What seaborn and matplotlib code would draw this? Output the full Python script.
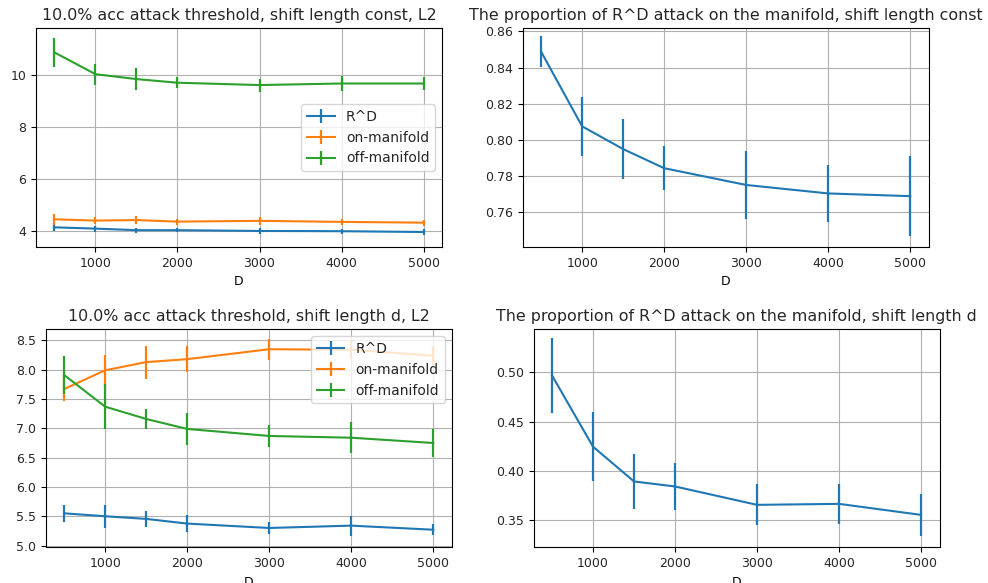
import numpy as np
import pandas as pd
import matplotlib
matplotlib.use("Agg")
import matplotlib.pyplot as plt
from matplotlib.container import ErrorbarContainer
import seaborn as sns

# Dimension values shared by every panel
D = [500, 1000, 1500, 2000, 3000, 4000, 5000]

# 10% accuracy attack threshold, shift length const (L2)
const_rd = [4.14, 4.09, 4.03, 4.03, 4.00, 3.99, 3.96]
const_rd_err = [0.16, 0.12, 0.10, 0.08, 0.12, 0.10, 0.12]
const_on = [4.45, 4.40, 4.42, 4.36, 4.39, 4.35, 4.32]
const_on_err = [0.22, 0.15, 0.17, 0.12, 0.15, 0.12, 0.12]
const_off = [10.89, 10.05, 9.86, 9.72, 9.63, 9.69, 9.69]
const_off_err = [0.55, 0.40, 0.42, 0.21, 0.25, 0.30, 0.27]

# Proportion of R^D attack on the manifold, shift length const
const_prop = [0.8488, 0.8074, 0.7948, 0.7842, 0.7749, 0.7702, 0.7687]
const_prop_err = [0.0085, 0.0164, 0.0165, 0.0121, 0.0190, 0.0160, 0.0220]

# 10% accuracy attack threshold, shift length d (L2)
d_rd = [5.55, 5.50, 5.455, 5.375, 5.30, 5.34, 5.27]
d_rd_err = [0.145, 0.20, 0.14, 0.14, 0.11, 0.17, 0.09]
d_on = [7.67, 7.99, 8.13, 8.18, 8.35, 8.34, 8.24]
d_on_err = [0.20, 0.26, 0.28, 0.22, 0.18, 0.16, 0.16]
d_off = [7.91, 7.37, 7.16, 6.99, 6.87, 6.84, 6.75]
d_off_err = [0.32, 0.38, 0.17, 0.27, 0.18, 0.26, 0.24]

# Proportion of R^D attack on the manifold, shift length d
d_prop = [0.497, 0.4245, 0.3891, 0.384, 0.3653, 0.3663, 0.3551]
d_prop_err = [0.038, 0.0354, 0.028, 0.024, 0.021, 0.0207, 0.0216]

series_names = ["R^D", "on-manifold", "off-manifold"]
palette = sns.color_palette("tab10", 3)

plt.rcParams["font.size"] = 9
plt.rcParams["axes.titlesize"] = 11.4
plt.rcParams["legend.fontsize"] = 10
plt.rcParams["text.color"] = "#262626"
plt.rcParams["xtick.labelcolor"] = "#262626"
plt.rcParams["ytick.labelcolor"] = "#262626"

fig = plt.figure(figsize=(9.88, 5.83), dpi=100)
ax_tl = fig.add_axes([0.0364, 0.5763, 0.411, 0.3756])
ax_tr = fig.add_axes([0.529, 0.5763, 0.411, 0.3756])
ax_bl = fig.add_axes([0.0462, 0.0612, 0.411, 0.374])
ax_br = fig.add_axes([0.540, 0.0612, 0.411, 0.374])


def draw_series(ax, y, yerr, color, label=None):
    df = pd.DataFrame({"D": D, "value": y})
    sns.lineplot(data=df, x="D", y="value", color=color, ax=ax,
                 linewidth=1.5, legend=False)
    line = ax.lines[-1]
    eb = ax.errorbar(D, y, yerr=yerr, fmt="none", ecolor=color,
                     elinewidth=1.6)
    barcols = eb.lines[2]
    return ErrorbarContainer((line, (), barcols), has_xerr=False,
                             has_yerr=True, label=label)


def finish(ax, title):
    ax.set_title(title)
    ax.set_xlabel("D")
    ax.set_ylabel("")
    ax.grid(True, color="#b0b0b0", linewidth=0.8)
    ax.set_axisbelow(True)
    ax.set_xlim(275, 5225)


# Top left
handles = []
for y, e, c, n in zip([const_rd, const_on, const_off],
                      [const_rd_err, const_on_err, const_off_err],
                      palette, series_names):
    handles.append(draw_series(ax_tl, y, e, c, n))
ax_tl.legend(handles=handles, labels=series_names, loc="center right")
finish(ax_tl, "10.0% acc attack threshold, shift length const, L2")
ax_tl.set_yticks([4, 6, 8, 10])
ax_tl.set_ylim(3.38, 11.83)

# Top right
draw_series(ax_tr, const_prop, const_prop_err, palette[0])
finish(ax_tr, "The proportion of R^D attack on the manifold, shift length const")
ax_tr.set_yticks([0.76, 0.78, 0.80, 0.82, 0.84, 0.86])
ax_tr.set_ylim(0.7405, 0.8619)

# Bottom left
handles = []
for y, e, c, n in zip([d_rd, d_on, d_off],
                      [d_rd_err, d_on_err, d_off_err],
                      palette, series_names):
    handles.append(draw_series(ax_bl, y, e, c, n))
ax_bl.legend(handles=handles, labels=series_names, loc="upper right")
finish(ax_bl, "10.0% acc attack threshold, shift length d, L2")
ax_bl.set_yticks([5.0, 5.5, 6.0, 6.5, 7.0, 7.5, 8.0, 8.5])
ax_bl.set_ylim(4.97, 8.69)

# Bottom right
draw_series(ax_br, d_prop, d_prop_err, palette[0])
finish(ax_br, "The proportion of R^D attack on the manifold, shift length d")
ax_br.set_yticks([0.35, 0.40, 0.45, 0.50])
ax_br.set_ylim(0.3221, 0.5439)

for ax in (ax_tl, ax_tr, ax_bl, ax_br):
    ax.set_xticks([1000, 2000, 3000, 4000, 5000])

fig.savefig("out.png", dpi=100)
